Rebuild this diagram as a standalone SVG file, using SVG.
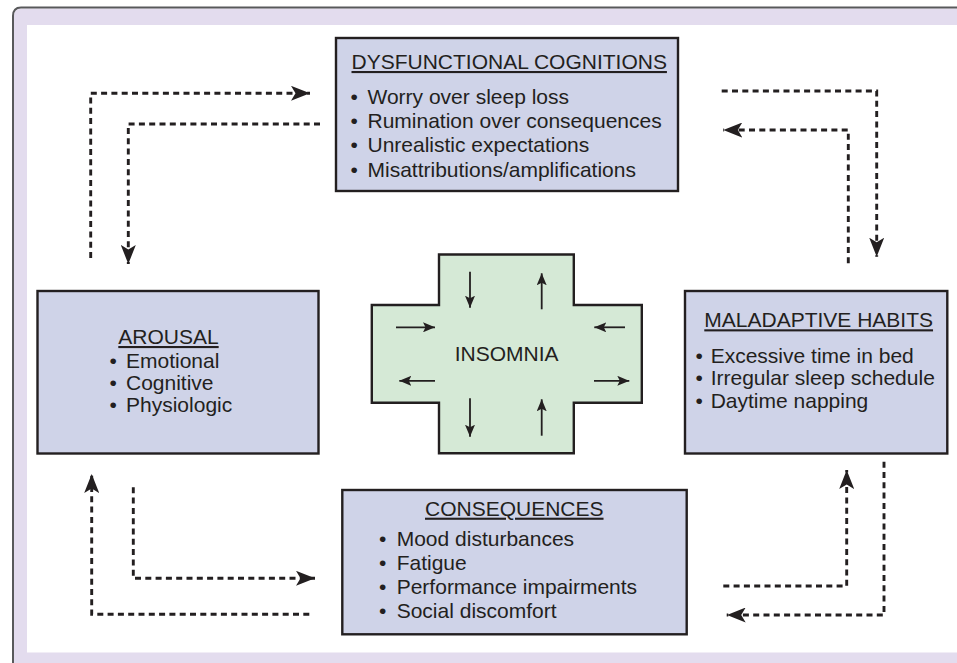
<svg xmlns="http://www.w3.org/2000/svg" width="957" height="663" viewBox="0 0 957 663">
<defs>
<style>
text{font-family:"Liberation Sans",Arial,Helvetica,sans-serif;font-size:21px;fill:#231f20}
.box{fill:#cfd3e8;stroke:#231f20;stroke-width:2.4}
.cross{fill:#d5e9d6;stroke:#231f20;stroke-width:2.4}
.dot{fill:none;stroke:#231f20;stroke-width:2.9;stroke-dasharray:6 4.3}
.sa{fill:none;stroke:#231f20;stroke-width:1.8}
.u{text-decoration:underline}
</style>
<marker id="big" markerUnits="userSpaceOnUse" markerWidth="19" markerHeight="15" refX="19" refY="7.5" orient="auto" viewBox="0 0 19 15">
<path d="M0,0 L19,7.5 L0,15 L4.5,7.5 z" fill="#231f20"/>
</marker>
<marker id="small" markerUnits="userSpaceOnUse" markerWidth="12" markerHeight="10" refX="12" refY="5" orient="auto" viewBox="0 0 12 10">
<path d="M0,0 L12,5 L0,10 L2.5,5 z" fill="#231f20"/>
</marker>
</defs>
<rect x="0" y="0" width="957" height="663" fill="#ffffff"/>
<g id="frame">
<path d="M14,663 V16 Q14,8.5 22,8.5 H957 V25 H27 V652.5 H957 V663 z" fill="#e3dcee"/>
<path d="M13,663 V16 Q13,7.5 21,7.5 H957" fill="none" stroke="#58595b" stroke-width="2"/>
</g>
<g id="connectors">
<path class="dot" d="M90.7,258 V93.3 H310" marker-end="url(#big)"/>
<path class="dot" d="M320,124 H128.3 V264" marker-end="url(#big)"/>
<path class="dot" d="M721.7,91 H876.7 V256.7" marker-end="url(#big)"/>
<path class="dot" d="M848.3,263.3 V130 H723.3" marker-end="url(#big)"/>
<path class="dot" d="M309.3,614.3 H91.7 V474" marker-end="url(#big)"/>
<path class="dot" d="M133.3,487.3 V578.3 H315" marker-end="url(#big)"/>
<path class="dot" d="M723.3,586 H846.7 V470" marker-end="url(#big)"/>
<path class="dot" d="M884,461.7 V615 H726.7" marker-end="url(#big)"/>
</g>
<g id="cognitions">
<rect class="box" x="336" y="38" width="342" height="153"/>
<text class="u" x="351.5" y="69">DYSFUNCTIONAL COGNITIONS</text>
<text y="104"><tspan x="350.5">•</tspan><tspan x="367.5">Worry over sleep loss</tspan></text>
<text y="128.3"><tspan x="350.5">•</tspan><tspan x="367.5">Rumination over consequences</tspan></text>
<text y="152.4"><tspan x="350.5">•</tspan><tspan x="367.5">Unrealistic expectations</tspan></text>
<text y="176.6"><tspan x="350.5">•</tspan><tspan x="367.5">Misattributions/amplifications</tspan></text>
</g>
<g id="arousal">
<rect class="box" x="37.5" y="291" width="281" height="162.5"/>
<text class="u" x="118.3" y="344">AROUSAL</text>
<text y="367.7"><tspan x="109.5">•</tspan><tspan x="126">Emotional</tspan></text>
<text y="389.8"><tspan x="109.5">•</tspan><tspan x="126">Cognitive</tspan></text>
<text y="411.8"><tspan x="109.5">•</tspan><tspan x="126">Physiologic</tspan></text>
</g>
<g id="insomnia">
<path class="cross" d="M439,254.5 H573.8 V305 H641.8 V402.7 H573.8 V453.3 H439 V402.7 H371.8 V305 H439 z"/>
<text x="506.6" y="360.7" text-anchor="middle">INSOMNIA</text>
<line class="sa" x1="470" y1="271.7" x2="470" y2="307.7" marker-end="url(#small)"/>
<line class="sa" x1="541.7" y1="309.3" x2="541.7" y2="273.3" marker-end="url(#small)"/>
<line class="sa" x1="396" y1="327.3" x2="435" y2="327.3" marker-end="url(#small)"/>
<line class="sa" x1="625" y1="327.3" x2="594.3" y2="327.3" marker-end="url(#small)"/>
<line class="sa" x1="435" y1="380.8" x2="399.3" y2="380.8" marker-end="url(#small)"/>
<line class="sa" x1="594" y1="380.8" x2="629.3" y2="380.8" marker-end="url(#small)"/>
<line class="sa" x1="470" y1="398.3" x2="470" y2="436.7" marker-end="url(#small)"/>
<line class="sa" x1="541.7" y1="435.7" x2="541.7" y2="399.3" marker-end="url(#small)"/>
</g>
<g id="habits">
<rect class="box" x="685" y="291" width="262.3" height="162.5"/>
<text class="u" x="704.3" y="327.3">MALADAPTIVE HABITS</text>
<text y="362.7"><tspan x="695.5">•</tspan><tspan x="710.7">Excessive time in bed</tspan></text>
<text y="385.3"><tspan x="695.5">•</tspan><tspan x="710.7">Irregular sleep schedule</tspan></text>
<text y="408.3"><tspan x="695.5">•</tspan><tspan x="710.7">Daytime napping</tspan></text>
</g>
<g id="consequences">
<rect class="box" x="342.3" y="490" width="344.4" height="144.3"/>
<text class="u" x="425" y="515.7">CONSEQUENCES</text>
<text y="545.7"><tspan x="379">•</tspan><tspan x="396.7">Mood disturbances</tspan></text>
<text y="569.8"><tspan x="379">•</tspan><tspan x="396.7">Fatigue</tspan></text>
<text y="594.3"><tspan x="379">•</tspan><tspan x="396.7">Performance impairments</tspan></text>
<text y="618.3"><tspan x="379">•</tspan><tspan x="396.7">Social discomfort</tspan></text>
</g>
</svg>
